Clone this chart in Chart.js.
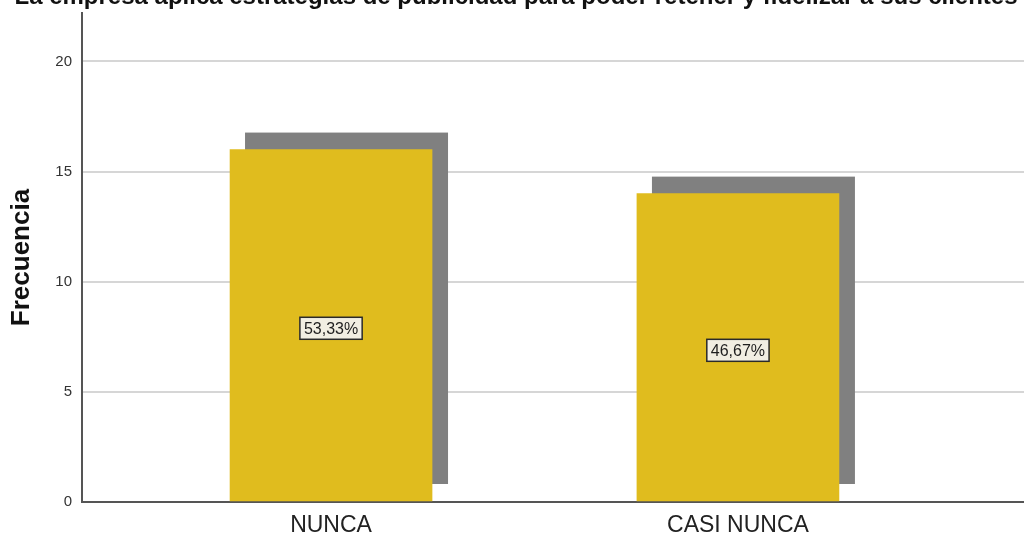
<!DOCTYPE html>
<html>
<head>
<meta charset="utf-8">
<script src="https://cdn.jsdelivr.net/npm/chart.js@4"></script>
<style>
  html, body { margin: 0; padding: 0; background: #fff; }
  #wrap { position: relative; width: 1024px; height: 538px; }
</style>
</head>
<body>
<div id="wrap"><canvas id="chart"></canvas></div>
<script>
// Data
const categories = ['NUNCA', 'CASI NUNCA'];
const frecuencias = [16, 14];
const yTicks = [0, 5, 10, 15, 20];
const chartTitle = 'La empresa aplica estrategias de publicidad para poder retener y fidelizar a sus clientes';

const total = frecuencias.reduce((a, b) => a + b, 0);
const FONT = "'Liberation Sans', Arial, sans-serif";

// grey block drawn behind each bar, shifted right and up
const shadowPlugin = {
  id: 'barShadow',
  beforeDatasetsDraw(chart) {
    const ctx = chart.ctx;
    const meta = chart.getDatasetMeta(0);
    ctx.save();
    ctx.fillStyle = '#808080';
    meta.data.forEach(bar => {
      const p = bar.getProps(['x', 'y', 'base', 'width'], true);
      ctx.fillRect(p.x - p.width / 2 + 15, p.y - 17, p.width + 1, p.base - p.y);
    });
    ctx.restore();
  }
};

// percentage boxes in the middle of the bars
const percentPlugin = {
  id: 'percentBoxes',
  afterDatasetsDraw(chart) {
    const ctx = chart.ctx;
    const meta = chart.getDatasetMeta(0);
    ctx.save();
    ctx.font = '16px ' + FONT;
    ctx.textAlign = 'center';
    ctx.textBaseline = 'middle';
    meta.data.forEach((bar, i) => {
      const p = bar.getProps(['x', 'y', 'base'], true);
      const txt = (frecuencias[i] / total * 100).toFixed(2).replace('.', ',') + '%';
      const cx = p.x, cy = (p.y + p.base) / 2 + 3;
      const w = ctx.measureText(txt).width + 8, h = 22;
      ctx.fillStyle = '#f1eee2';
      ctx.fillRect(cx - w / 2, cy - h / 2, w, h);
      ctx.strokeStyle = '#2a2a2a';
      ctx.lineWidth = 1.5;
      ctx.strokeRect(cx - w / 2, cy - h / 2, w, h);
      ctx.fillStyle = '#1e1e1e';
      ctx.fillText(txt, cx, cy + 1);
    });
    ctx.restore();
  }
};

// title sits partly above the top edge
const titlePlugin = {
  id: 'cutTitle',
  afterDraw(chart) {
    const ctx = chart.ctx;
    ctx.save();
    ctx.font = 'bold 24px ' + FONT;
    ctx.fillStyle = '#111';
    ctx.textAlign = 'center';
    ctx.textBaseline = 'alphabetic';
    ctx.fillText(chartTitle, 516, 4);
    ctx.restore();
  }
};

new Chart(document.getElementById('chart'), {
  type: 'bar',
  data: {
    datasets: [{
      label: 'Frecuencia',
      data: frecuencias.map((v, i) => ({ x: i, y: v })),
      backgroundColor: '#e0bc1e',
      borderWidth: 0,
      barThickness: 202
    }]
  },
  options: {
    responsive: true,
    maintainAspectRatio: false,
    animation: false,
    layout: { padding: { top: 13, right: 0, left: 0, bottom: 0 } },
    plugins: {
      legend: { display: false },
      tooltip: { enabled: false }
    },
    scales: {
      x: {
        type: 'linear',
        offset: false,
        bounds: 'data',
        min: -0.612,
        max: 1.703,
        afterBuildTicks: s => { s.ticks = categories.map((c, i) => ({ value: i })); },
        afterFit: s => { s.height = 36; s.paddingLeft = 0; s.paddingRight = 0; },
        grid: { display: false, drawTicks: false },
        border: { color: '#555', width: 2 },
        ticks: {
          callback: v => categories[v],
          color: '#222',
          padding: 10,
          font: { family: FONT, size: 23 },
          maxRotation: 0
        }
      },
      y: {
        min: 0,
        max: 22.2,
        afterBuildTicks: s => { s.ticks = yTicks.map(v => ({ value: v })); },
        afterFit: s => { s.width = 82; s.paddingTop = 0; s.paddingBottom = 0; },
        grid: { color: '#d6d6d6', lineWidth: 2, drawTicks: false },
        border: { color: '#555', width: 2 },
        ticks: {
          color: '#333',
          padding: 10,
          font: { family: FONT, size: 15 }
        },
        title: {
          display: true,
          text: 'Frecuencia',
          color: '#111',
          font: { family: FONT, size: 26, weight: 'bold' },
          padding: { top: 6, bottom: 0 }
        }
      }
    }
  },
  plugins: [shadowPlugin, percentPlugin, titlePlugin]
});
</script>
</body>
</html>
